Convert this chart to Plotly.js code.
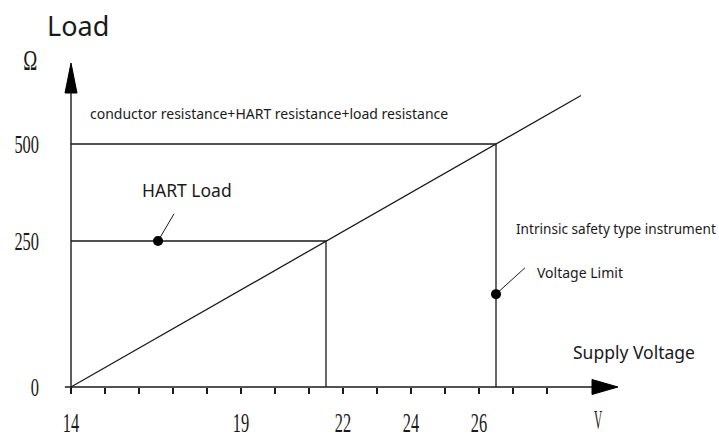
<!DOCTYPE html>
<html>
<head>
<meta charset="utf-8">
<script src="https://cdn.plot.ly/plotly-3.0.1.min.js"></script>
<style>html,body{margin:0;padding:0;background:#fff;}#chart{width:719px;height:438px;}</style>
</head>
<body>
<div id="chart"></div>
<script>
// ---- data ----
const voltageTicks = [14, 15, 16, 17, 18, 19, 20, 21, 22, 23, 24, 25, 26, 27, 28];
const voltageTickLabels = ['14', '', '', '', '', '19', '', '', '22', '', '24', '', '26', '', ''];
const voltageUnitTick = [29.5];
const voltageUnitLabel = ['V'];
const loadTicks = [0, 250, 500];
const loadTickLabels = ['0', '250', '500'];

// load line (supply voltage V, load Ω)
const loadLineV = [14, 21.5, 26.5, 29];
const loadLineOhm = [0, 250, 500, 625];
// HART load guide
const hartGuideV = [14, 21.5, 21.5];
const hartGuideOhm = [250, 250, 0];
// total resistance guide
const totalGuideV = [14, 26.5, 26.5];
const totalGuideOhm = [500, 500, 0];
// callout points
const calloutV = [16.56, 26.5];
const calloutOhm = [250, 159];
const hartLeaderV = [16.56, 17.03];
const hartLeaderOhm = [250, 320];
const limitLeaderV = [26.5, 27.35];
const limitLeaderOhm = [159, 204];

// ---- schematic (not-to-scale) vertical scale of the drawing ----
const scaleOhm = [0, 250, 500];
const scaleH = [0, 146, 243];
function toH(o) {
  let i = 0;
  if (o > scaleOhm[1]) i = 1;
  const o0 = scaleOhm[i], o1 = scaleOhm[i + 1], h0 = scaleH[i], h1 = scaleH[i + 1];
  return h0 + (o - o0) * (h1 - h0) / (o1 - o0);
}
const H = arr => arr.map(toH);

const ink = '#1a1a1a';
const lineStyle = {color: ink, width: 1.3};
const serif = 'Liberation Serif, DejaVu Serif, serif';
const sans = 'Noto Sans, Open Sans, sans-serif';
const W = 719, HT = 438;
const px = v => v / W, py = v => 1 - v / HT;

const traces = [
  {x: loadLineV, y: H(loadLineOhm), mode: 'lines', line: lineStyle, hoverinfo: 'skip'},
  {x: hartGuideV, y: H(hartGuideOhm), mode: 'lines', line: lineStyle, hoverinfo: 'skip'},
  {x: totalGuideV, y: H(totalGuideOhm), mode: 'lines', line: lineStyle, hoverinfo: 'skip'},
  {x: hartLeaderV, y: H(hartLeaderOhm), mode: 'lines', line: {color: ink, width: 1}, hoverinfo: 'skip'},
  {x: limitLeaderV, y: H(limitLeaderOhm), mode: 'lines', line: {color: ink, width: 1}, hoverinfo: 'skip'},
  {x: calloutV, y: H(calloutOhm), mode: 'markers', marker: {color: '#000', size: 10}, hoverinfo: 'skip'},
  {x: [voltageUnitTick[0]], y: [0], xaxis: 'x2', mode: 'markers', marker: {opacity: 0}, hoverinfo: 'skip'}
];

const xRange = [14 - 71 / 34, 14 + 648 / 34];
const yRange = [-51, 387];
const axisPos = 51 / HT;

const layout = {
  width: W, height: HT,
  margin: {l: 0, r: 0, t: 0, b: 0},
  paper_bgcolor: '#fff', plot_bgcolor: '#fff',
  showlegend: false,
  xaxis: {
    range: xRange, anchor: 'free', position: axisPos,
    showgrid: false, zeroline: false, showline: false,
    tickmode: 'array', tickvals: voltageTicks, ticktext: voltageTickLabels,
    ticks: 'outside', ticklen: 6, tickwidth: 1.2, tickcolor: ink,
    ticklabelstandoff: 4,
    tickfont: {family: serif, size: 28, color: ink}
  },
  xaxis2: {
    range: xRange, overlaying: 'x', anchor: 'free', position: axisPos,
    showgrid: false, zeroline: false, showline: false,
    tickmode: 'array', tickvals: voltageUnitTick, ticktext: voltageUnitLabel,
    ticks: '', ticklabelstandoff: 13,
    tickfont: {family: serif, size: 28, color: ink}
  },
  yaxis: {
    range: yRange, anchor: 'free', position: 39 / W,
    showgrid: false, zeroline: false, showline: false,
    tickmode: 'array', tickvals: H(loadTicks), ticktext: loadTickLabels,
    ticks: '',
    tickfont: {family: serif, size: 26, color: ink}
  },
  shapes: [
    {type: 'line', xref: 'x', yref: 'y', x0: 13.82, x1: 29.4, y0: 0, y1: 0, line: {color: ink, width: 1.4}},
    {type: 'line', xref: 'x', yref: 'y', x0: 14, x1: 14, y0: -6, y1: 296, line: {color: ink, width: 1.4}},
    {type: 'path', xref: 'x', yref: 'y', xsizemode: 'pixel', ysizemode: 'pixel', xanchor: 14 + 547 / 34, yanchor: 0,
     path: 'M0,0 L-26,7.5 L-26,-7.5 Z', fillcolor: '#000', line: {color: '#000', width: 1}},
    {type: 'path', xref: 'x', yref: 'y', xsizemode: 'pixel', ysizemode: 'pixel', xanchor: 14, yanchor: 324,
     path: 'M0,0 L-6,-30 L6,-30 Z', fillcolor: '#000', line: {color: '#000', width: 1}}
  ],
  annotations: [
    {text: 'Load', xref: 'paper', yref: 'paper', x: px(78), y: py(26), xanchor: 'center', yanchor: 'middle', showarrow: false, font: {family: sans, size: 27, color: ink}},
    {text: 'Ω', xref: 'paper', yref: 'paper', x: px(30), y: py(59), xanchor: 'center', yanchor: 'middle', showarrow: false, font: {family: serif, size: 30, color: ink}},
    {text: 'conductor resistance+HART resistance+load resistance', xref: 'paper', yref: 'paper', x: px(88), y: py(114), xanchor: 'left', yanchor: 'middle', showarrow: false, font: {family: sans, size: 14, color: ink}},
    {text: 'HART Load', xref: 'paper', yref: 'paper', x: px(140), y: py(190), xanchor: 'left', yanchor: 'middle', showarrow: false, font: {family: sans, size: 17.5, color: ink}},
    {text: 'Intrinsic safety type instrument', xref: 'paper', yref: 'paper', x: px(514), y: py(228), xanchor: 'left', yanchor: 'middle', showarrow: false, font: {family: sans, size: 13.6, color: ink}},
    {text: 'Voltage Limit', xref: 'paper', yref: 'paper', x: px(535), y: py(272), xanchor: 'left', yanchor: 'middle', showarrow: false, font: {family: sans, size: 14, color: ink}},
    {text: 'Supply Voltage', xref: 'paper', yref: 'paper', x: px(571), y: py(352), xanchor: 'left', yanchor: 'middle', showarrow: false, font: {family: sans, size: 17.5, color: ink}}
  ]
};

// narrow, tall digits as in the reference drawing
function condenseTicks() {
  document.querySelectorAll('g.xtick text, g.ytick text, g.x2tick text').forEach(t => {
    const n = (t.textContent || '').length;
    if (n > 0) {
      t.setAttribute('textLength', (n * 8.2).toFixed(1));
      t.setAttribute('lengthAdjust', 'spacingAndGlyphs');
    }
  });
  document.querySelectorAll('g.annotation-text-g text').forEach(t => {
    if (t.textContent === 'Ω') {
      t.setAttribute('textLength', '14');
      t.setAttribute('lengthAdjust', 'spacingAndGlyphs');
    }
  });
}

Plotly.newPlot('chart', traces, layout, {displayModeBar: false, staticPlot: true}).then(condenseTicks);
</script>
</body>
</html>
